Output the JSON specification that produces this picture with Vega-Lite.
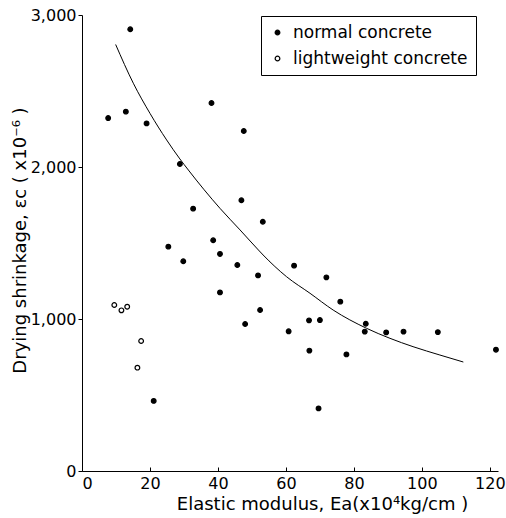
{
  "$schema": "https://vega.github.io/schema/vega-lite/v6.json",
  "width": 416,
  "height": 456,
  "autosize": {"type": "none"},
  "padding": {"left": 82, "top": 15, "right": 8, "bottom": 47},
  "background": "white",
  "config": {
    "view": {"stroke": null},
    "font": "DejaVu Sans",
    "axis": {
      "domainColor": "black",
      "domainWidth": 1,
      "tickColor": "black",
      "grid": false,
      "labelColor": "black",
      "titleColor": "black",
      "labelFont": "DejaVu Sans",
      "titleFont": "DejaVu Sans",
      "labelFontSize": 16,
      "titleFontSize": 18,
      "titleFontWeight": "normal"
    }
  },
  "datasets": {
    "pts": [
      {"E": 7.7, "S": 2322, "type": "normal concrete"},
      {"E": 12.9, "S": 2364, "type": "normal concrete"},
      {"E": 19.0, "S": 2287, "type": "normal concrete"},
      {"E": 14.2, "S": 2906, "type": "normal concrete"},
      {"E": 25.4, "S": 1476, "type": "normal concrete"},
      {"E": 28.8, "S": 2020, "type": "normal concrete"},
      {"E": 21.1, "S": 461, "type": "normal concrete"},
      {"E": 38.1, "S": 2421, "type": "normal concrete"},
      {"E": 47.6, "S": 2237, "type": "normal concrete"},
      {"E": 32.7, "S": 1726, "type": "normal concrete"},
      {"E": 46.9, "S": 1781, "type": "normal concrete"},
      {"E": 53.2, "S": 1640, "type": "normal concrete"},
      {"E": 38.6, "S": 1518, "type": "normal concrete"},
      {"E": 40.6, "S": 1428, "type": "normal concrete"},
      {"E": 29.8, "S": 1380, "type": "normal concrete"},
      {"E": 45.7, "S": 1355, "type": "normal concrete"},
      {"E": 62.4, "S": 1351, "type": "normal concrete"},
      {"E": 51.8, "S": 1287, "type": "normal concrete"},
      {"E": 71.9, "S": 1274, "type": "normal concrete"},
      {"E": 40.6, "S": 1175, "type": "normal concrete"},
      {"E": 52.4, "S": 1059, "type": "normal concrete"},
      {"E": 48.0, "S": 967, "type": "normal concrete"},
      {"E": 60.8, "S": 919, "type": "normal concrete"},
      {"E": 66.8, "S": 991, "type": "normal concrete"},
      {"E": 70.0, "S": 993, "type": "normal concrete"},
      {"E": 76.0, "S": 1114, "type": "normal concrete"},
      {"E": 83.5, "S": 969, "type": "normal concrete"},
      {"E": 83.2, "S": 917, "type": "normal concrete"},
      {"E": 89.5, "S": 912, "type": "normal concrete"},
      {"E": 94.6, "S": 917, "type": "normal concrete"},
      {"E": 104.7, "S": 914, "type": "normal concrete"},
      {"E": 121.8, "S": 798, "type": "normal concrete"},
      {"E": 66.9, "S": 792, "type": "normal concrete"},
      {"E": 77.8, "S": 767, "type": "normal concrete"},
      {"E": 69.6, "S": 412, "type": "normal concrete"},
      {"E": 9.5, "S": 1092, "type": "lightweight concrete"},
      {"E": 11.6, "S": 1057, "type": "lightweight concrete"},
      {"E": 13.3, "S": 1081, "type": "lightweight concrete"},
      {"E": 17.4, "S": 855, "type": "lightweight concrete"},
      {"E": 16.3, "S": 680, "type": "lightweight concrete"}
    ],
    "curve": [
      {"E": 9.9, "S": 2806},
      {"E": 15.1, "S": 2551},
      {"E": 20.0, "S": 2353},
      {"E": 24.9, "S": 2178},
      {"E": 28.8, "S": 2053},
      {"E": 31.3, "S": 1980},
      {"E": 40.6, "S": 1728},
      {"E": 46.5, "S": 1586},
      {"E": 51.9, "S": 1454},
      {"E": 53.3, "S": 1421},
      {"E": 60.2, "S": 1278},
      {"E": 67.1, "S": 1169},
      {"E": 73.9, "S": 1059},
      {"E": 83.7, "S": 939},
      {"E": 90.6, "S": 873},
      {"E": 97.4, "S": 818},
      {"E": 105.3, "S": 763},
      {"E": 112.2, "S": 717}
    ]
  },
  "layer": [
    {
      "data": {"name": "curve"},
      "mark": {"type": "line", "color": "black", "strokeWidth": 1, "interpolate": "monotone"},
      "encoding": {
        "x": {"field": "E", "type": "quantitative"},
        "y": {"field": "S", "type": "quantitative"}
      }
    },
    {
      "data": {"name": "pts"},
      "mark": {"type": "circle", "stroke": "black", "strokeWidth": 1.2, "size": 22, "opacity": 1},
      "encoding": {
        "x": {
          "field": "E",
          "type": "quantitative",
          "scale": {"domain": [0, 122.4], "nice": false, "zero": true},
          "axis": {
            "values": [0, 20, 40, 60, 80, 100, 120],
            "tickSize": -4,
            "labelPadding": 8,
            "title": "Elastic modulus, Ea(x10⁴kg/cm  )",
            "titleX": 240,
            "titleY": 38,
            "titleBaseline": "alphabetic",
            "titleAlign": "center"
          }
        },
        "y": {
          "field": "S",
          "type": "quantitative",
          "scale": {"domain": [0, 3000], "nice": false},
          "axis": {
            "values": [0, 1000, 2000, 3000],
            "format": ",.0f",
            "tickSize": 4,
            "labelPadding": 2,
            "title": "Drying shrinkage, εc ( x10⁻⁶ )",
            "titleX": -62,
            "titleY": 225,
            "titleAngle": -90,
            "titleBaseline": "middle",
            "titleAlign": "center"
          }
        },
        "fill": {
          "field": "type",
          "type": "nominal",
          "scale": {"domain": ["normal concrete", "lightweight concrete"], "range": ["black", "white"]},
          "legend": {
            "title": null,
            "orient": "none",
            "legendX": 179,
            "legendY": 1,
            "strokeColor": "black",
            "padding": 8,
            "symbolType": "circle",
            "symbolSize": 22,
            "symbolStrokeColor": "black",
            "symbolStrokeWidth": 1.2,
            "labelFontSize": 17,
            "labelFont": "DejaVu Sans",
            "labelColor": "black",
            "labelLimit": 300,
            "labelOffset": 7,
            "rowPadding": 8,
            "fillColor": "white"
          }
        }
      }
    }
  ]
}
